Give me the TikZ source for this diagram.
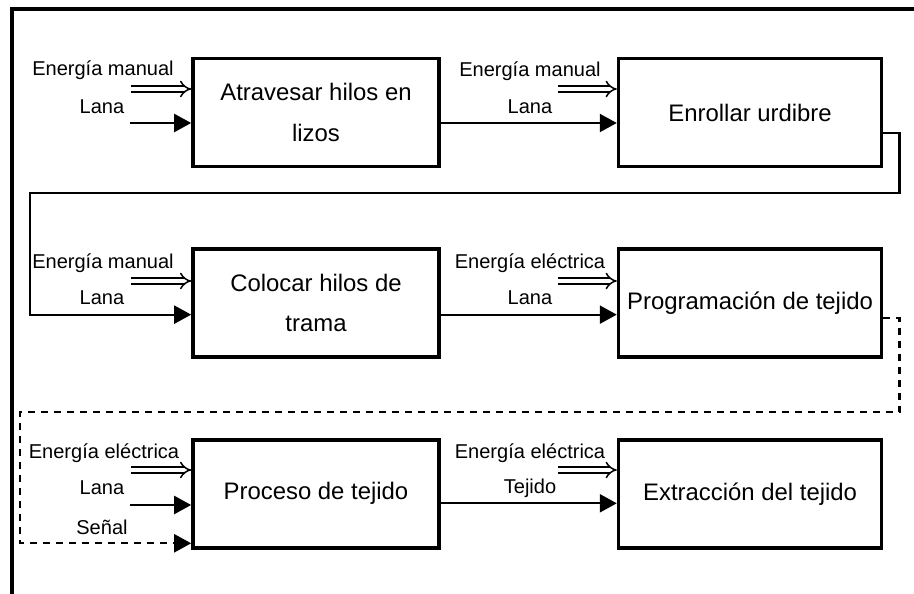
\documentclass[tikz,border=0pt]{standalone}
\usepackage{fontspec}
\setmainfont{Liberation Sans}
\usepackage{tikz}
\usetikzlibrary{arrows.meta, positioning}
\tikzset{
    stage/.style={draw, rectangle, line width=2.1pt, minimum width=4.92cm, minimum height=2.16cm, align=center, font=\fontsize{13.6}{23}\selectfont},
    lbl/.style={font=\fontsize{11.4}{13}\selectfont, inner sep=0pt},
    energy/.style={double, double distance=2.4pt, line width=0.85pt, -{Implies}},
    flow/.style={line width=1.3pt, -{Triangle[length=0.34cm, width=0.36cm]}},
    signal/.style={flow, dash pattern=on 4pt off 3.4pt}
}

\begin{document}
\begin{tikzpicture}[x=0.02cm, y=-0.02cm]
    \useasboundingbox (0,0) rectangle (914,594);
    % marco
    \draw [line width=2pt] (12,594) -- (12,9) -- (914,9);

    % etapas
    \node (atravesar) [stage] at (316,112.5) {Atravesar hilos en\\lizos};
    \node (enrollar) [stage, minimum width=5.26cm, right=3.52cm of atravesar] {Enrollar urdibre};
    \node (colocar) [stage, below=1.58cm of atravesar] {Colocar hilos de\\trama};
    \node (programacion) [stage, minimum width=5.26cm, below=1.58cm of enrollar] {Programación de tejido};
    \node (proceso) [stage, below=1.58cm of colocar] {Proceso de tejido};
    \node (extraccion) [stage, minimum width=5.26cm, below=1.58cm of programacion] {Extracción del tejido};

    % entradas
    \coordinate (e1) at (131,89);
    \coordinate (l1) at (130,123);
    \coordinate (e2) at (558,89);
    \coordinate (e3) at (131,281);
    \coordinate (e4) at (558,281);
    \coordinate (e5) at (131,470);
    \coordinate (l5) at (130,505);
    \coordinate (e6) at (558,470);
    \coordinate (vuelta1) at (30,193);
    \coordinate (vuelta2) at (20,412);

    \node (te1) [lbl] at (103,70) {Energía manual};
    \node (tl1) [lbl] at (102,107) {Lana};
    \node (te2) [lbl] at (530,71) {Energía manual};
    \node (tl2) [lbl] at (530,107) {Lana};
    \node (te3) [lbl] at (103,263) {Energía manual};
    \node (tl3) [lbl] at (102,298) {Lana};
    \node (te4) [lbl] at (530,263) {Energía eléctrica};
    \node (tl4) [lbl] at (530,298) {Lana};
    \node (te5) [lbl] at (104,453) {Energía eléctrica};
    \node (tl5) [lbl] at (102,488) {Lana};
    \node (ts5) [lbl] at (102,527) {Señal};
    \node (te6) [lbl] at (530,453) {Energía eléctrica};
    \node (tt6) [lbl] at (530,488) {Tejido};

    \draw [energy] (e1) -- (e1 -| atravesar.west);
    \draw [flow] (l1) -- (l1 -| atravesar.west);
    \draw [energy] (e2) -- (e2 -| enrollar.west);
    \draw [flow] ([yshift=-0.21cm]atravesar.east) -- ([yshift=-0.21cm]enrollar.west);
    \draw [flow] ([yshift=-0.41cm]enrollar.east) -- ++(16,0) |- (vuelta1) |- ([yshift=-0.23cm]colocar.west);
    \draw [energy] (e3) -- (e3 -| colocar.west);
    \draw [energy] (e4) -- (e4 -| programacion.west);
    \draw [flow] ([yshift=-0.23cm]colocar.east) -- ([yshift=-0.23cm]programacion.west);
    \draw [signal] ([yshift=-0.29cm]programacion.east) -- ++(16,0) |- (vuelta2) |- ([yshift=-0.99cm]proceso.west);
    \draw [energy] (e5) -- (e5 -| proceso.west);
    \draw [flow] (l5) -- (l5 -| proceso.west);
    \draw [energy] (e6) -- (e6 -| extraccion.west);
    \draw [flow] ([yshift=-0.19cm]proceso.east) -- ([yshift=-0.19cm]extraccion.west);
\end{tikzpicture}
\end{document}
